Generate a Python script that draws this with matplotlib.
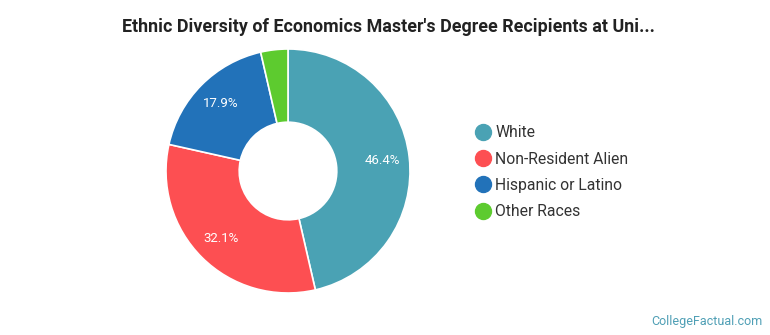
import matplotlib
matplotlib.use("Agg")
import matplotlib.pyplot as plt
from matplotlib.lines import Line2D

categories = ["White", "Non-Resident Alien", "Hispanic or Latino", "Other Races"]
values = [46.4, 32.1, 17.9, 3.6]
labels_shown = ["46.4%", "32.1%", "17.9%", ""]
colors = ["#4aa2b4", "#fd4f52", "#2272b9", "#5dcb2f"]

plt.rcParams['font.family'] = ['Roboto', 'DejaVu Sans']

W, H = 770, 335
fig = plt.figure(figsize=(W / 100, H / 100), dpi=100)
fig.patch.set_facecolor("white")

cx, cy, r = 288, 171, 122
ax = fig.add_axes([(cx - r) / W, (H - cy - r) / H, 2 * r / W, 2 * r / H])
wedges, texts, autotexts = ax.pie(
    values, colors=colors, startangle=90, counterclock=False,
    radius=1.0, wedgeprops=dict(width=0.6, edgecolor="white", linewidth=1.2),
    autopct=lambda p: "", pctdistance=0.78)
for at, lab in zip(autotexts, labels_shown):
    at.set_text(lab)
    at.set_color("white")
    at.set_fontsize(9.5)
ax.set_xlim(-1, 1)
ax.set_ylim(-1, 1)
ax.set_aspect("equal")
ax.axis("off")

fig.text(388 / W, 1 - 27 / H, "Ethnic Diversity of Economics Master's Degree Recipients at Uni...",
         ha="center", va="center", fontsize=12.9, fontweight="bold", color="#222222")

handles = [Line2D([0], [0], marker="o", linestyle="", markersize=11.5,
                  markerfacecolor=c, markeredgecolor=c) for c in colors]
leg = fig.legend(handles, categories, loc="upper left",
                 bbox_to_anchor=(468 / W, 1 - 119 / H), frameon=False,
                 fontsize=11.3, labelspacing=0.72, handletextpad=0.25,
                 handlelength=1.1, borderaxespad=0)
for t in leg.get_texts():
    t.set_color("#333333")

fig.text(763 / W, 1 - 321 / H, "CollegeFactual.com", ha="right", va="center",
         fontsize=9, color="#4f9fb5")

fig.savefig("out.png", dpi=100, facecolor="white")
